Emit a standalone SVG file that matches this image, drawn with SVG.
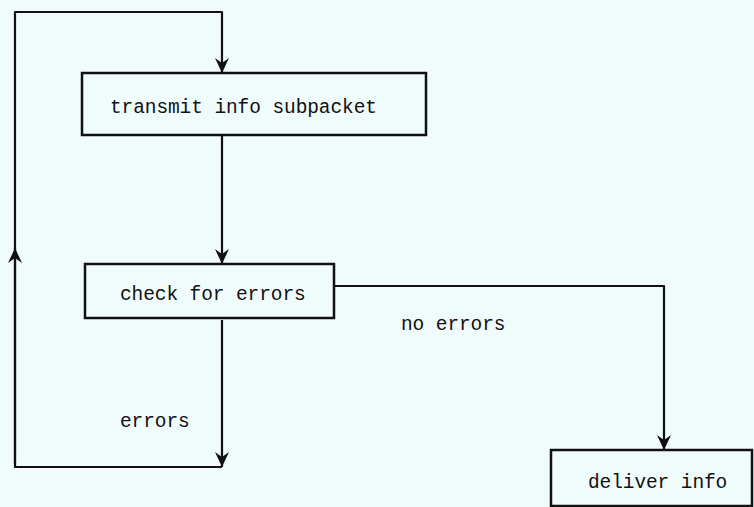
<svg xmlns="http://www.w3.org/2000/svg" width="754" height="507" viewBox="0 0 754 507">
<style>
.box{fill:none;stroke:#111;stroke-width:2.5}
.ln{fill:none;stroke:#111;stroke-width:2.2;stroke-linejoin:round}
text{font-family:"Liberation Mono","DejaVu Sans Mono",monospace;font-size:19.5px;fill:#111;letter-spacing:-0.1px}
</style>
<defs>
<marker id="ah" viewBox="0 0 16 14" refX="15" refY="7" markerWidth="16" markerHeight="14" markerUnits="userSpaceOnUse" orient="auto">
<path d="M0,0 L15,7 L0,14 L5,7 Z" fill="#111"/>
</marker>
</defs>
<rect width="754" height="507" fill="#f0fbfc"/>
<g id="connectors">
<path class="ln" d="M15,463 L15,12 L222,12 L222,73" marker-end="url(#ah)"/>
<path class="ln" d="M222,136 L222,264" marker-end="url(#ah)"/>
<path class="ln" d="M222,320 L222,467" marker-end="url(#ah)"/>
<path class="ln" d="M222,467 L15,467 L15,248" marker-end="url(#ah)"/>
<path class="ln" d="M334,286 L664,286 L664,450" marker-end="url(#ah)"/>
<text x="120" y="427">errors</text>
<text x="401" y="330">no errors</text>
</g>
<g id="transmit">
<rect class="box" x="82" y="73" width="344" height="62"/>
<text x="110" y="113">transmit info subpacket</text>
</g>
<g id="check">
<rect class="box" x="85" y="264" width="249" height="54"/>
<text x="120" y="300">check for errors</text>
</g>
<g id="deliver">
<rect class="box" x="551" y="450" width="201" height="56"/>
<text x="588" y="488">deliver info</text>
</g>
</svg>
